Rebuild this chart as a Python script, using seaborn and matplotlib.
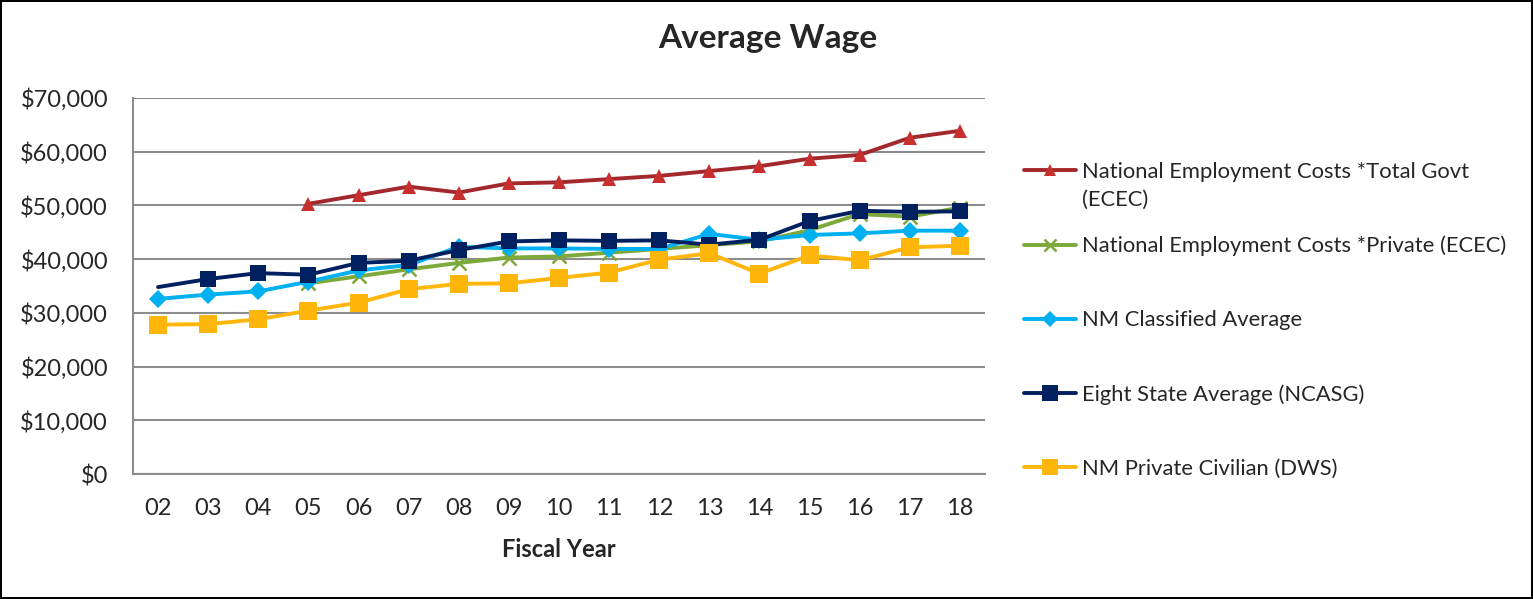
import pandas as pd
import seaborn as sns
import matplotlib.pyplot as plt
from matplotlib.lines import Line2D
from matplotlib.ticker import FuncFormatter

# fiscal years on the x axis
years = ['02', '03', '04', '05', '06', '07', '08', '09', '10', '11', '12', '13', '14', '15', '16', '17', '18']

# average wage per series (None = no data for that year)
total_govt = [None, None, None, 50300, 51900, 53500, 52400, 54100, 54300, 54900, 55500, 56400, 57300, 58700, 59400, 62600, 63900]
private_ecec = [None, None, None, 35500, 36800, 38100, 39300, 40300, 40500, 41200, 41900, 42600, 43300, 45400, 48400, 47900, 49600]
nm_classified = [32600, 33400, 34000, 35800, 37900, 38900, 42300, 42000, 42000, 41900, 41900, 44700, 43600, 44500, 44800, 45300, 45300]
eight_state = [34800, 36300, 37400, 37100, 39300, 39700, 41700, 43300, 43500, 43400, 43500, 42700, 43600, 47100, 49000, 48800, 48900]
nm_private = [27800, 27900, 28800, 30400, 31900, 34400, 35400, 35500, 36500, 37500, 39900, 41100, 37300, 40700, 39800, 42200, 42500]

series_names = ['National Employment Costs *Total Govt (ECEC)',
                'National Employment Costs *Private (ECEC)',
                'NM Classified Average',
                'Eight State Average (NCASG)',
                'NM Private Civilian (DWS)']
series_values = [total_govt, private_ecec, nm_classified, eight_state, nm_private]

line_colors = ['#A3282C', '#7DA83A', '#00B0F0', '#002060', '#FFB60A']
marker_colors = ['#C8302F', '#7DA83A', '#00B0F0', '#002060', '#FFB60A']
markers = ['^', 'x', 'D', 's', 's']
msizes = [10, 10, 9, 12, 13]

rows = []
for name, vals in zip(series_names, series_values):
    for i, (yr, v) in enumerate(zip(years, vals)):
        rows.append({'series': name, 'pos': i, 'year': yr, 'wage': v})
df = pd.DataFrame(rows).dropna()

sns.set_style('white')
plt.rcParams['font.family'] = ['Lato', 'DejaVu Sans']

fig = plt.figure(figsize=(15.33, 5.99), dpi=100, edgecolor='black', linewidth=1.5)
ax = fig.add_axes([133 / 1533, 1 - 474 / 599, 852 / 1533, 376 / 599])

handles = []
for k, name in enumerate(series_names):
    sub = df[df['series'] == name]
    sns.lineplot(data=sub, x='pos', y='wage', ax=ax, color=line_colors[k], linewidth=2.8,
                 marker=markers[k], markersize=msizes[k], markerfacecolor=marker_colors[k],
                 markeredgecolor=marker_colors[k], markeredgewidth=1.8 if markers[k] == 'x' else 0,
                 zorder=3 + k, legend=False)
    ln = ax.lines[-1]
    if name == 'Eight State Average (NCASG)':
        # first point drawn without a marker
        ln.set_markevery(list(range(1, len(sub))))
    handles.append(Line2D([], [], color=line_colors[k], linewidth=2.8, marker=markers[k],
                          markersize=msizes[k] - 1, markerfacecolor=marker_colors[k],
                          markeredgecolor=marker_colors[k],
                          markeredgewidth=1.8 if markers[k] == 'x' else 0))

ax.set_xlim(-0.5, len(years) - 0.5)
ax.set_ylim(0, 70000)
ax.set_yticks(range(0, 70001, 10000))
ax.yaxis.set_major_formatter(FuncFormatter(lambda v, p: '${:,.0f}'.format(v)))
ax.set_xticks(range(len(years)))
ax.set_xticklabels(years)
ax.tick_params(axis='both', labelsize=17, length=0)
ax.tick_params(axis='x', pad=17)
ax.tick_params(axis='y', pad=18)
ax.grid(axis='y', color='#8C8C8C', linewidth=1.5)
ax.set_axisbelow(True)
for s in ['top', 'right']:
    ax.spines[s].set_visible(False)
for s in ['left', 'bottom']:
    ax.spines[s].set_color('#8C8C8C')
    ax.spines[s].set_linewidth(1.5)
ax.set_xlabel('Fiscal Year', fontsize=17, fontweight='bold', labelpad=14)
ax.set_ylabel('')

fig.text(768 / 1533, 1 - 48 / 599, 'Average Wage', ha='center', va='baseline',
         fontsize=24, fontweight='bold')

labels = ['National Employment Costs *Total Govt'] + series_names[1:]
fig.legend(handles, labels, loc='upper left', bbox_to_anchor=(1015 / 1533, 1 - 153 / 599),
           frameon=False, fontsize=15.8, handlelength=2.4, handletextpad=0.25,
           labelspacing=2.46, borderaxespad=0)
fig.text(1082 / 1533, 1 - 200 / 599, '(ECEC)', ha='left', va='center', fontsize=15.8)

fig.savefig('out.png', dpi=100)
